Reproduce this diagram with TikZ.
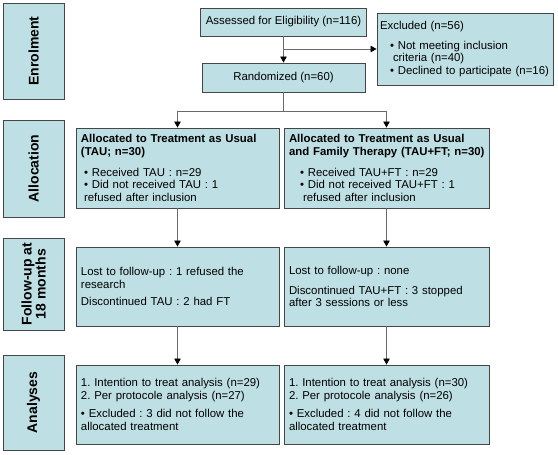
\documentclass[tikz,border=0pt]{standalone}
\usepackage{fontspec}
\setmainfont{Liberation Sans}
\usetikzlibrary{arrows.meta}
\definecolor{boxfill}{RGB}{190,224,228}
\definecolor{boxline}{RGB}{70,70,70}
\definecolor{linkline}{RGB}{105,105,105}
\frenchspacing
\begin{document}
\begin{tikzpicture}[x=1pt, y=-1pt,
		box/.style={draw=boxline, fill=boxfill, line width=0.9pt, inner xsep=5pt, inner ysep=0pt, align=left, font=\fontsize{11.4}{12.8}\selectfont},
		side/.style={draw=boxline, fill=boxfill, line width=0.9pt, rotate=90, inner sep=0pt, align=center, font=\fontsize{14}{14}\selectfont\bfseries},
		link/.style={draw=linkline, line width=0.8pt},
		arr/.style={link, -{Triangle[width=6.5pt,length=6pt,color=black]}}]
				\useasboundingbox (0,0) rectangle (558,455);

				% Enrolment
				\node[side, minimum width=96, minimum height=61] (enrol) at (33.5,51) {Enrolment};
				\node[box, minimum width=163, minimum height=28] (assess) at (283.5,22) {Assessed for Eligibility (n=116)};
				\node[box, minimum width=163, minimum height=29] (rand) at (283.5,77.5) {Randomized (n=60)};
				\node[box, inner xsep=3pt, text width=170, minimum height=72] (excl) at (465,49) {Excluded (n=56)\\[7pt]
					\hspace*{10pt}\textbullet\ Not meeting inclusion\\
					\hspace*{13pt}criteria (n=40)\\
					\hspace*{10pt}\textbullet\ \mbox{Declined to participate (n=16)}};

				% Allocation
				\node[side, minimum width=97, minimum height=61] (alloc) at (33.5,168.5) {Allocation};
				\node[box, text width=193, minimum height=80] (allocL) at (177.5,168) {\textbf{Allocated to Treatment as Usual}\\
					\textbf{(TAU; n=30)}\\[8pt]
					\hspace*{3pt}\textbullet\ Received TAU : n=29\\
					\hspace*{3pt}\textbullet\ Did not received TAU : 1\\
					\hspace*{3pt}refused after inclusion};
				\node[box, text width=195, minimum height=80] (allocR) at (386.5,168) {\textbf{Allocated to Treatment as Usual}\\
					\mbox{\textbf{and Family Therapy (TAU+FT; n=30)}}\\[8pt]
					\hspace*{11pt}\textbullet\ Received TAU+FT : n=29\\
					\hspace*{11pt}\textbullet\ Did not received TAU+FT : 1\\
					\hspace*{14pt}refused after inclusion};

				% Follow-up
				\node[side, minimum width=92, minimum height=61] (follow) at (33.5,284) {Follow-up at\\18 months};
				\node[box, text width=193, minimum height=79] (fuL) at (177.5,286.5) {Lost to follow-up : 1 refused the\\
					research\\[5pt]
					Discontinued TAU : 2 had FT};
				\node[box, text width=195, minimum height=79] (fuR) at (386.5,286.5) {Lost to follow-up : none\\[7pt]
					Discontinued TAU+FT : 3 stopped\\
					after 3 sessions or less};

				% Analyses
				\node[side, minimum width=95, minimum height=61] (anal) at (33.5,402.5) {Analyses};
				\node[box, text width=193, minimum height=79] (anL) at (177.5,404.5) {1. Intention to treat analysis (n=29)\\
					2. Per protocole analysis (n=27)\\[5pt]
					\textbullet\ Excluded : 3 did not follow the\\
					allocated treatment};
				\node[box, text width=195, minimum height=79] (anR) at (386.5,404.5) {1. Intention to treat analysis (n=30)\\
					2. Per protocole analysis (n=26)\\[5pt]
					\textbullet\ Excluded : 4 did not follow the\\
					allocated treatment};

				% Links
				\coordinate (split) at (283.5,111);
				\draw[arr] (assess) -- (rand);
				\draw[arr] (assess.south |- excl.west) -- (excl.west);
				\draw[link] (rand) -- (split);
				\draw[arr] (split) -| (allocL);
				\draw[arr] (split) -| (allocR);
				\draw[arr] (allocL) -- (fuL);
				\draw[arr] (allocR) -- (fuR);
				\draw[arr] (fuL) -- (anL);
				\draw[arr] (fuR) -- (anR);
			\end{tikzpicture}
\end{document}
